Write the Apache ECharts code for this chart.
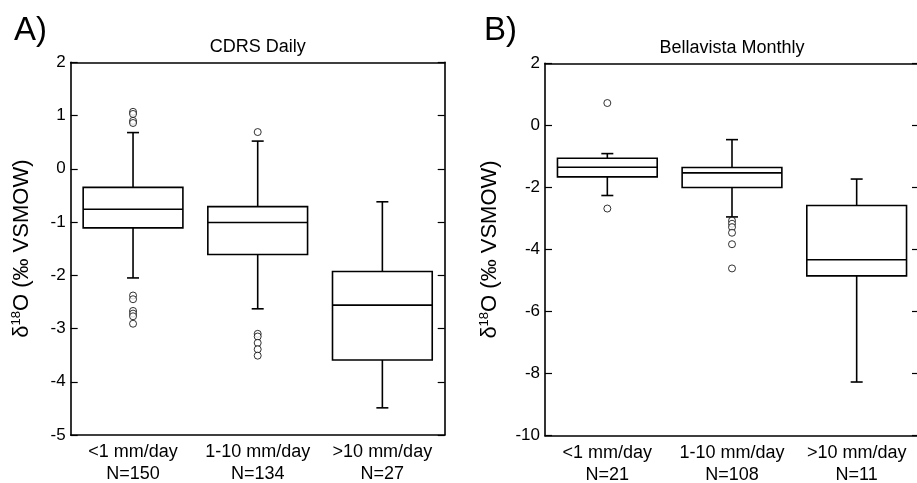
<!DOCTYPE html>
<html><head><meta charset="utf-8">
<script src="https://cdn.jsdelivr.net/npm/echarts@6/dist/echarts.min.js"></script>
<style>html,body{margin:0;padding:0;background:#fff}#c{width:917px;height:483px}</style>
</head><body><div id="c"></div>
<script>
// ---- data ----
const categories = ['<1 mm/day', '1-10 mm/day', '>10 mm/day'];
const countsA = [150, 134, 27];
const countsB = [21, 108, 11];
const titleA = 'CDRS Daily';
const titleB = 'Bellavista Monthly';
// [lower whisker, Q1, median, Q3, upper whisker]
const boxA = [
  [-2.05, -1.11, -0.76, -0.35, 0.68],
  [-2.63, -1.61, -1.01, -0.71, 0.52],
  [-4.49, -3.59, -2.56, -1.93, -0.62]
];
const outliersA = [
  [0, 1.07], [0, 1.03], [0, 0.90], [0, 0.86],
  [0, -2.38], [0, -2.45], [0, -2.67], [0, -2.72], [0, -2.77], [0, -2.91],
  [1, 0.69], [1, -3.10], [1, -3.15], [1, -3.27], [1, -3.39], [1, -3.51]
];
const boxB = [
  [-2.26, -1.66, -1.35, -1.06, -0.91],
  [-2.95, -2.00, -1.53, -1.36, -0.46],
  [-8.27, -4.85, -4.33, -2.58, -1.73]
];
const outliersB = [
  [0, 0.72], [0, -2.68],
  [1, -3.07], [1, -3.17], [1, -3.28], [1, -3.46], [1, -3.83], [1, -4.61]
];
const yTicksA = [-5, -4, -3, -2, -1, 0, 1, 2];
const yTicksB = [-10, -8, -6, -4, -2, 0, 2];

// ---- chart ----
const FONT = 'Liberation Sans, Arial, Helvetica, sans-serif';
const chart = echarts.init(document.getElementById('c'));

function renderBox(params, api) {
  const i = api.value(0);
  const band = api.size([1, 0])[0];
  const w = band * 0.8;
  const cap = 12;
  const p = [1, 2, 3, 4, 5].map(k => api.coord([i, api.value(k)]));
  const x = p[0][0];
  const yLo = p[0][1], yQ1 = p[1][1], yMed = p[2][1], yQ3 = p[3][1], yHi = p[4][1];
  const st = { stroke: '#000', lineWidth: 1.6, fill: null };
  return {
    type: 'group', children: [
      { type: 'line', shape: { x1: x, y1: yQ3, x2: x, y2: yHi }, style: st },
      { type: 'line', shape: { x1: x, y1: yQ1, x2: x, y2: yLo }, style: st },
      { type: 'line', shape: { x1: x - cap / 2, y1: yHi, x2: x + cap / 2, y2: yHi }, style: st },
      { type: 'line', shape: { x1: x - cap / 2, y1: yLo, x2: x + cap / 2, y2: yLo }, style: st },
      { type: 'rect', shape: { x: x - w / 2, y: yQ3, width: w, height: yQ1 - yQ3 }, style: { stroke: '#000', fill: '#fff', lineWidth: 1.6 } },
      { type: 'line', shape: { x1: x - w / 2, y1: yMed, x2: x + w / 2, y2: yMed }, style: st }
    ]
  };
}

const lineStyle = { color: '#000', width: 1.6 };
const tickStyle = { color: '#000', width: 1.2 };

function makeAxes(g, ticks, counts, title, nameGap) {
  const labels = categories.map((c, i) => c + '\nN=' + counts[i]);
  const min = ticks[0], max = ticks[ticks.length - 1], interval = ticks[1] - ticks[0];
  const x = [
    {
      type: 'category', gridIndex: g, data: labels, position: 'bottom',
      axisLine: { onZero: false, lineStyle },
      axisTick: { inside: true, length: 6, lineStyle: tickStyle },
      axisLabel: { color: '#000', fontSize: 18, lineHeight: 22, margin: 6, interval: 0, fontFamily: FONT },
      splitLine: { show: false }
    },
    {
      type: 'category', gridIndex: g, data: labels, position: 'top',
      axisLine: { onZero: false, lineStyle },
      axisTick: { inside: true, length: 6, lineStyle: tickStyle },
      axisLabel: { show: false },
      splitLine: { show: false },
      name: title, nameLocation: 'middle', nameGap: 6,
      nameTextStyle: { color: '#000', fontSize: 18, fontFamily: FONT }
    }
  ];
  const y = [
    {
      type: 'value', gridIndex: g, min, max, interval, position: 'left',
      axisLine: { show: true, onZero: false, lineStyle },
      axisTick: { show: true, inside: true, length: 7, lineStyle: tickStyle },
      axisLabel: { color: '#000', fontSize: 17, margin: 5, fontFamily: FONT },
      splitLine: { show: false },
      name: '{d|δ}{s|18}{d|O (‰ VSMOW)}', nameLocation: 'middle', nameRotate: 90, nameGap,
      nameTextStyle: {
        color: '#000', fontFamily: FONT, fontSize: 22,
        rich: {
          d: { fontSize: 22, fontFamily: FONT, color: '#000' },
          s: { fontSize: 13, fontFamily: FONT, color: '#000', padding: [0, 0, 11, 0] }
        }
      }
    },
    {
      type: 'value', gridIndex: g, min, max, interval, position: 'right',
      axisLine: { show: true, onZero: false, lineStyle },
      axisTick: { show: true, inside: true, length: 7, lineStyle: tickStyle },
      axisLabel: { show: false },
      splitLine: { show: false }
    }
  ];
  return { x, y };
}

const axA = makeAxes(0, yTicksA, countsA, titleA, 37);
const axB = makeAxes(1, yTicksB, countsB, titleB, 43);

const option = {
  backgroundColor: '#fff',
  animation: false,
  grid: [
    { left: 70.7, right: 472.3, top: 62.3, bottom: 48, containLabel: false, outerBoundsMode: 'none' },
    { left: 545, right: -2, top: 63.3, bottom: 47.3, containLabel: false, outerBoundsMode: 'none' }
  ],
  xAxis: [...axA.x, ...axB.x],
  yAxis: [...axA.y, ...axB.y],
  graphic: [
    { type: 'text', left: 14, top: 14, style: { text: 'A)', font: '33px ' + FONT, fill: '#000' } },
    { type: 'text', left: 484, top: 14, style: { text: 'B)', font: '33px ' + FONT, fill: '#000' } }
  ],
  series: [
    {
      type: 'custom', xAxisIndex: 0, yAxisIndex: 0, renderItem: renderBox,
      encode: { x: 0, y: [1, 2, 3, 4, 5] },
      data: boxA.map((b, i) => [i, ...b]), z: 2
    },
    {
      type: 'scatter', xAxisIndex: 0, yAxisIndex: 0, data: outliersA,
      symbol: 'circle', symbolSize: 7,
      itemStyle: { color: '#fff', borderColor: '#000', borderWidth: 1 }, z: 3
    },
    {
      type: 'custom', xAxisIndex: 2, yAxisIndex: 2, renderItem: renderBox,
      encode: { x: 0, y: [1, 2, 3, 4, 5] },
      data: boxB.map((b, i) => [i, ...b]), z: 2
    },
    {
      type: 'scatter', xAxisIndex: 2, yAxisIndex: 2, data: outliersB,
      symbol: 'circle', symbolSize: 7,
      itemStyle: { color: '#fff', borderColor: '#000', borderWidth: 1 }, z: 3
    }
  ]
};
chart.setOption(option);
</script>
</body></html>
